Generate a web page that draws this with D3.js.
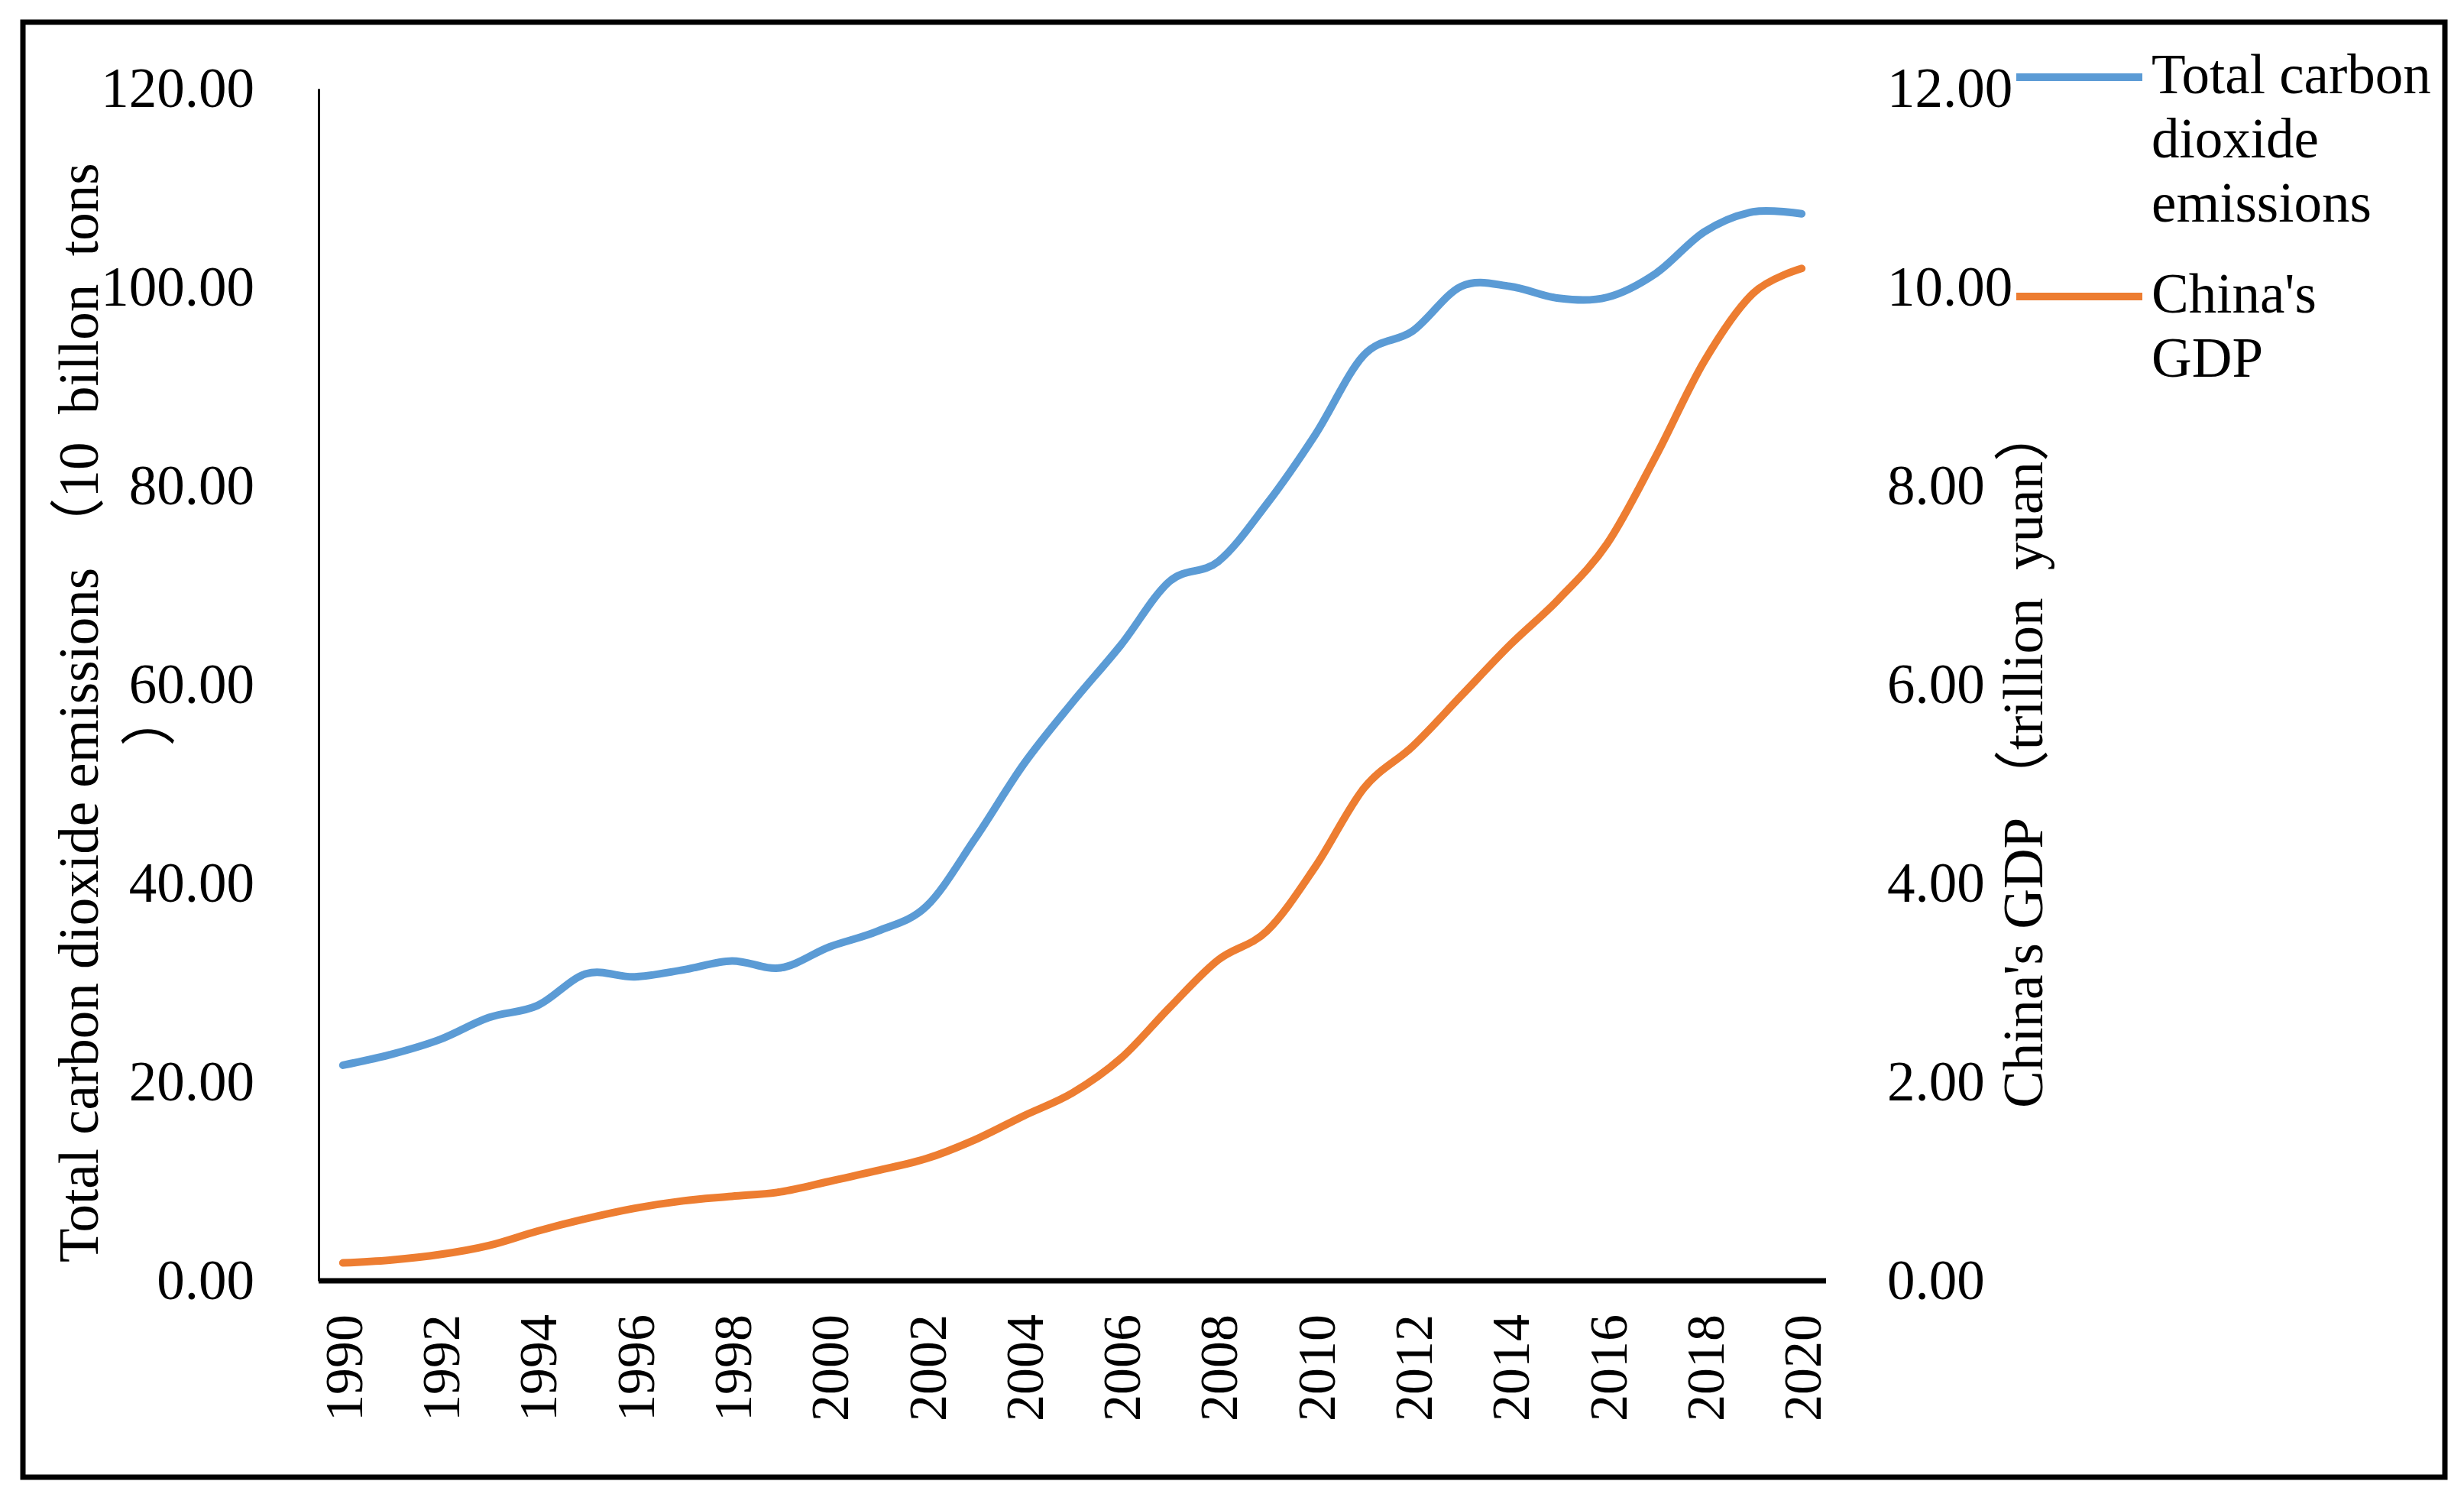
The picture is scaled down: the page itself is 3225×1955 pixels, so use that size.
<!DOCTYPE html>
<html>
<head>
<meta charset="utf-8">
<script src="https://cdn.jsdelivr.net/npm/d3@7"></script>
<style>
  body { margin: 0; background: #fff; }
  text { font-family: "Liberation Serif", "Noto Sans CJK SC", serif; }
</style>
</head>
<body>
<div id="vis-container"></div>
<script>
// chart data
const years = d3.range(1990, 2021);
const co2Emissions = [21.7, 22.8, 24.3, 26.5, 27.7, 30.9, 30.6, 31.3, 32.2, 31.5,
  33.6, 35.2, 37.7, 44.5, 52.0, 58.2, 64.0, 70.4, 72.4, 78.2,
  85.2, 93.2, 95.6, 100.1, 100.1, 98.9, 99.0, 101.4, 105.6, 107.6, 107.4];
const chinaGdp = [0.18, 0.21, 0.265, 0.355, 0.50, 0.625, 0.73, 0.805, 0.85, 0.895,
  1.0, 1.11, 1.23, 1.42, 1.66, 1.89, 2.24, 2.75, 3.23, 3.52,
  4.17, 4.96, 5.38, 5.89, 6.40, 6.86, 7.42, 8.30, 9.26, 9.94, 10.19];
const leftTicks = [0, 20, 40, 60, 80, 100, 120];
const rightTicks = [0, 2, 4, 6, 8, 10, 12];
const xTickYears = years.filter(y => y % 2 === 0);
const seriesNames = ["Total carbon dioxide emissions", "China's GDP"];
const seriesColors = ["#5B9BD5", "#ED7D31"];

const width = 3225;
const height = 1955;
const plot = { left: 417, right: 2390, top: 116, bottom: 1676 };
const fontSize = 73;

const svg = d3.select("#vis-container")
  .append("svg")
  .attr("width", width)
  .attr("height", height);

// outer frame
svg.append("rect")
  .attr("x", 30).attr("y", 29)
  .attr("width", 3170).attr("height", 1904)
  .attr("fill", "none")
  .attr("stroke", "#000")
  .attr("stroke-width", 7);

const xScale = d3.scalePoint()
  .domain(years)
  .range([plot.left, plot.right])
  .padding(0.5);

const yLeft = d3.scaleLinear().domain([0, 120]).range([plot.bottom, plot.top]);
const yRight = d3.scaleLinear().domain([0, 12]).range([plot.bottom, plot.top]);

// left axis
svg.append("g")
  .attr("transform", `translate(${plot.left},0)`)
  .call(d3.axisLeft(yLeft).tickValues(leftTicks).tickSize(0).tickSizeOuter(0)
    .tickPadding(84).tickFormat(d3.format(".2f")))
  .call(g => g.select(".domain").attr("stroke-width", 3))
  .call(g => g.selectAll("text").attr("font-size", fontSize).attr("fill", "#000")
    .style("font-family", "Liberation Serif"));

// right axis (labels only)
svg.append("g")
  .attr("transform", `translate(${plot.right},0)`)
  .call(d3.axisRight(yRight).tickValues(rightTicks).tickSize(0).tickSizeOuter(0)
    .tickPadding(80).tickFormat(d3.format(".2f")))
  .call(g => g.select(".domain").remove())
  .call(g => g.selectAll("text").attr("font-size", fontSize).attr("fill", "#000")
    .style("font-family", "Liberation Serif"));

// bottom axis
svg.append("g")
  .attr("transform", `translate(0,${plot.bottom})`)
  .call(d3.axisBottom(xScale).tickValues(xTickYears).tickSize(0).tickSizeOuter(0))
  .call(g => g.select(".domain")
    .attr("d", `M${plot.left},0H${plot.right}`)
    .attr("stroke-width", 7))
  .call(g => g.selectAll("text")
    .attr("font-size", 70)
    .attr("fill", "#000")
    .style("font-family", "Liberation Serif")
    .attr("transform", "rotate(-90)")
    .attr("x", -44).attr("y", 0).attr("dy", "0.35em")
    .attr("text-anchor", "end"));

// lines
const lineCo2 = d3.line()
  .x((d, i) => xScale(years[i]))
  .y(d => yLeft(d))
  .curve(d3.curveCardinal.tension(0));

const lineGdp = d3.line()
  .x((d, i) => xScale(years[i]))
  .y(d => yRight(d))
  .curve(d3.curveCardinal.tension(0));

svg.append("path")
  .datum(co2Emissions)
  .attr("fill", "none")
  .attr("stroke", seriesColors[0])
  .attr("stroke-width", 10)
  .attr("stroke-linecap", "round")
  .attr("d", lineCo2);

svg.append("path")
  .datum(chinaGdp)
  .attr("fill", "none")
  .attr("stroke", seriesColors[1])
  .attr("stroke-width", 10)
  .attr("stroke-linecap", "round")
  .attr("d", lineGdp);

// left axis title (wraps onto two lines)
const leftTitle = svg.append("g");
leftTitle.append("text")
  .attr("transform", "translate(128,1652) rotate(-90)")
  .attr("font-size", fontSize)
  .attr("text-anchor", "start")
  .style("white-space", "pre")
  .text("Total carbon dioxide emissions （10  billon  tons");
leftTitle.append("text")
  .attr("transform", "translate(221,940) rotate(-90)")
  .attr("font-size", fontSize)
  .attr("text-anchor", "middle")
  .text("）");

// right axis title
svg.append("text")
  .attr("transform", "translate(2673,1450) rotate(-90)")
  .attr("font-size", fontSize)
  .attr("text-anchor", "start")
  .style("white-space", "pre")
  .text("China's GDP （trillion  yuan）");

// legend
const legendItems = [
  { name: seriesNames[0], color: seriesColors[0], y: 101, lines: ["Total carbon", "dioxide", "emissions"], base: 122 },
  { name: seriesNames[1], color: seriesColors[1], y: 388, lines: ["China's", "GDP"], base: 409 }
];

const legend = svg.append("g");
legendItems.forEach(item => {
  legend.append("line")
    .attr("x1", 2639).attr("x2", 2804)
    .attr("y1", item.y).attr("y2", item.y)
    .attr("stroke", item.color)
    .attr("stroke-width", 10);
  item.lines.forEach((t, i) => {
    legend.append("text")
      .attr("x", 2816)
      .attr("y", item.base + i * 84)
      .attr("font-size", fontSize)
      .text(t);
  });
});
</script>
</body>
</html>
